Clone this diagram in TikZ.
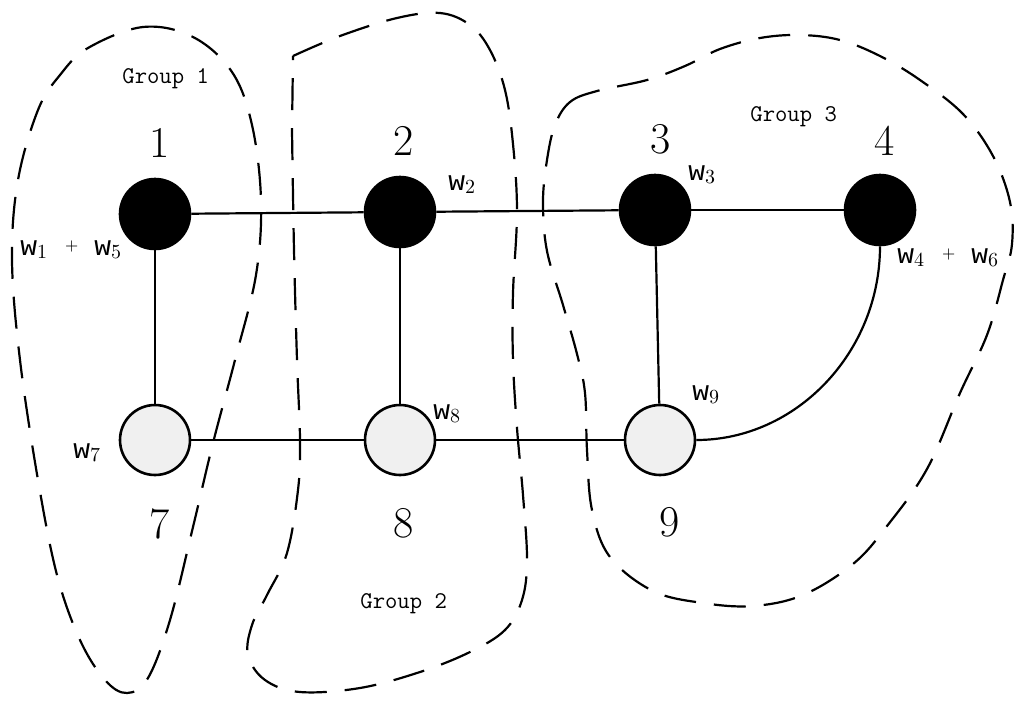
\documentclass[tikz,border=0pt]{standalone}
\usepackage{fontspec}
\usepackage{tikz}
\usetikzlibrary{positioning}

\newfontfamily\wfont{Liberation Mono}
\definecolor{palegray}{RGB}{240,240,240}
\newcommand{\wt}[1]{{\wfont w}\raisebox{-1.5pt}{\fontsize{10}{12}\selectfont #1}}
\newcommand{\wplus}{\hspace{9pt}\raisebox{2.5pt}{\fontsize{8}{9}\selectfont +}\hspace{8pt}}

\begin{document}
\begin{tikzpicture}[
                x=0.5pt, y=-0.5pt, % one unit per pixel, y downwards
                vertex/.style={circle, draw, line width=1.3pt, minimum size=35pt, inner sep=0pt}, % Circle for vertices
                dark vertex/.style={vertex, fill=black},
                pale vertex/.style={vertex, fill=palegray},
                num/.style={font=\fontsize{22}{26}\selectfont, inner sep=0pt}, % Vertex numbers
                weight/.style={font=\fontsize{14}{16}\selectfont, anchor=base west, inner sep=0pt},
                grouplabel/.style={font=\fontsize{12}{14}\selectfont\ttfamily, anchor=base west, inner sep=0pt},
                link/.style={line width=1.1pt},
                blob/.style={line width=1.1pt, dash pattern=on 16pt off 9pt}
                ]
                \useasboundingbox (0,0) rectangle (1024,708);

                % vertices
                \node[dark vertex] (n1) at (155,214) {};
                \node[dark vertex] (n2) at (400,212) {};
                \node[dark vertex] (n3) at (655,210) {};
                \node[dark vertex] (n4) at (880,210) {};
                \node[pale vertex] (n7) at (155,440) {};
                \node[pale vertex] (n8) at (400,440) {};
                \node[pale vertex] (n9) at (660,440) {};

                % numbers
                \node[num, above=10pt of n1, xshift=2.5pt] (l1) {1};
                \node[num, above=10pt of n2, xshift=2pt] (l2) {2};
                \node[num, above=9.5pt of n3, xshift=3pt] (l3) {3};
                \node[num, above=9pt of n4, xshift=2.5pt] (l4) {4};
                \node[num, below=16pt of n7, xshift=2.5pt] (l7) {7};
                \node[num, below=16pt of n8, xshift=2pt] (l8) {8};
                \node[num, below=15.5pt of n9, xshift=5pt] (l9) {9};

                % weights
                \node[weight] (w15) at (20,255) {\wt{1}\wplus\wt{5}};
                \node[weight] (w2) at (448,190) {\wt{2}};
                \node[weight] (w3) at (688,180) {\wt{3}};
                \node[weight] (w46) at (897,263) {\wt{4}\wplus\wt{6}};
                \node[weight] (w7) at (73,458) {\wt{7}};
                \node[weight] (w8) at (433,419) {\wt{8}};
                \node[weight] (w9) at (692,400) {\wt{9}};

                % groups
                \node[grouplabel] (g1) at (122,83) {Group 1};
                \node[grouplabel] (g2) at (360,608) {Group 2};
                \node[grouplabel] (g3) at (750,121) {Group 3};

                % edges
                \draw[link] (n1) -- (n2);
                \draw[link] (n2) -- (n3);
                \draw[link] (n3) -- (n4);
                \draw[link] (n1) -- (n7);
                \draw[link] (n2) -- (n8);
                \draw[link] (n3) -- (n9);
                \draw[link] (n7) -- (n8);
                \draw[link] (n8) -- (n9);
                \draw[link] (n9.east) .. controls +(100,0) and +(0,106) .. (n4.south);

                % group outlines
                \draw[blob] plot[smooth cycle, tension=0.6] coordinates {
                    (88,48) (143,27) (193,37) (232,72) (252,125) (261,200) (256,275)
                    (235,360) (213,443) (193,527) (170,620) (148,678) (127,693) (105,680)
                    (80,640) (57,575) (38,480) (20,360) (12,260) (18,180) (38,110) (60,75)};
                \draw[blob] plot[smooth, tension=0.6] coordinates {
                    (293,56) (340,36) (397,18) (440,13) (470,25) (490,50) (505,90)
                    (513,144) (517,212) (513,293) (513,360) (517,428) (523,495) (527,560)
                    (522,600) (505,630) (470,652) (420,672) (360,688) (300,692) (265,680)
                    (248,655) (252,625) (267,595) (287,553) (298,490) (300,440) (297,360)
                    (294,250) (292,130)} -- cycle;
                \draw[blob] plot[smooth cycle, tension=0.6] coordinates {
                    (555,125) (570,102) (597,91) (647,80) (685,66) (720,49) (760,38)
                    (800,35) (840,40) (880,56) (920,80) (963,114) (993,156) (1010,202)
                    (1012,244) (1003,280) (987,335) (960,393) (927,469) (887,526) (853,564)
                    (803,595) (753,606) (703,603) (653,591) (610,557) (592,510) (587,450)
                    (585,393) (577,354) (563,305) (547,251) (543,202) (547,160)};
            \end{tikzpicture}
\end{document}
